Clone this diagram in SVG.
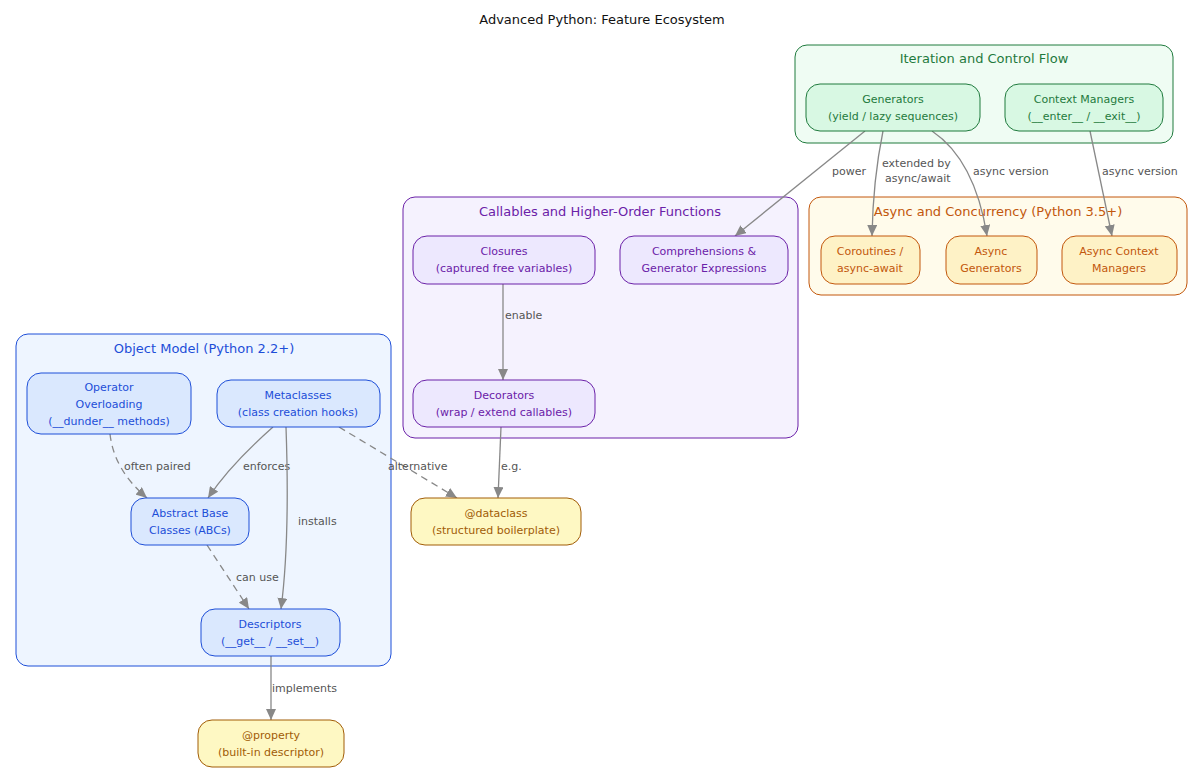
<svg xmlns="http://www.w3.org/2000/svg" width="1204" height="773" viewBox="0 0 1204 773">
<style>
text{font-family:"DejaVu Sans","Liberation Sans",sans-serif;text-anchor:middle}
.t{font-size:13px;fill:#111}
.cl{font-size:13px}
.n{font-size:11px}
.el{font-size:11px;fill:#555;text-anchor:start}
.e{fill:none;stroke:#888;stroke-width:1.3;marker-end:url(#a)}
.d{stroke-dasharray:7,5}
.gC{fill:#effcf3;stroke:#1f7a3d}.gN{fill:#d8f8e3;stroke:#1f7a3d}.gT{fill:#1f7a3d}
.pC{fill:#f5f2fe;stroke:#6b21a8}.pN{fill:#ede8fe;stroke:#6b21a8}.pT{fill:#6b21a8}
.bC{fill:#eef5ff;stroke:#1d4ed8}.bN{fill:#dae8fe;stroke:#1d4ed8}.bT{fill:#1d4ed8}
.oC{fill:#fffbeb;stroke:#c2570c}.oN{fill:#fef2c6;stroke:#c2570c}.oT{fill:#c2570c}
.yN{fill:#fef8c3;stroke:#a15c07}.yT{fill:#a15c07}
</style>
<defs><marker id="a" markerUnits="userSpaceOnUse" markerWidth="12" markerHeight="10" refX="11" refY="5" orient="auto"><path d="M0,0L11,5L0,10z" fill="#888"/></marker></defs>
<text class="t" x="602" y="24">Advanced Python: Feature Ecosystem</text>
<g id="cluster_iter"><rect class="gC" x="795" y="45" width="378" height="98" rx="12"/><text class="cl gT" x="984" y="63">Iteration and Control Flow</text></g>
<g id="cluster_async"><rect class="oC" x="809" y="197" width="378" height="98" rx="12"/><text class="cl oT" x="998" y="216">Async and Concurrency (Python 3.5+)</text></g>
<g id="cluster_call"><rect class="pC" x="403" y="197" width="395" height="241" rx="12"/><text class="cl pT" x="600" y="216">Callables and Higher-Order Functions</text></g>
<g id="cluster_obj"><rect class="bC" x="16" y="334" width="375" height="332" rx="12"/><text class="cl bT" x="204" y="353">Object Model (Python 2.2+)</text></g>
<g id="connectors">
<path class="e" d="M865,131L735,236"/><text class="el" x="832" y="175">power</text>
<path class="e" d="M883,131Q873,180 872,236"/><text class="el" x="882" y="167">extended by</text><text class="el" x="885" y="182">async/await</text>
<path class="e" d="M932,131Q975,160 987,236"/><text class="el" x="973" y="175">async version</text>
<path class="e" d="M1090,131L1112,236"/><text class="el" x="1102" y="175">async version</text>
<path class="e" d="M503,284L503,380"/><text class="el" x="505" y="319">enable</text>
<path class="e" d="M501,427L498,498"/><text class="el" x="501" y="470">e.g.</text>
<path class="e d" d="M339,427L457,498"/><text class="el" x="388" y="470">alternative</text>
<path class="e" d="M273,427Q230,465 208,498"/><text class="el" x="243" y="470">enforces</text>
<path class="e" d="M286,427Q290,540 281,609"/><text class="el" x="298" y="525">installs</text>
<path class="e d" d="M110,434Q114,470 147,498"/><text class="el" x="124" y="470">often paired</text>
<path class="e d" d="M207,545L249,609"/><text class="el" x="236" y="581">can use</text>
<path class="e" d="M271,656L271,720"/><text class="el" x="272" y="692">implements</text>
</g>
<g id="generators"><rect class="gN" x="806" y="84" width="174" height="47" rx="14"/><text class="n gT" x="893" y="103">Generators</text><text class="n gT" x="893" y="120">(yield / lazy sequences)</text></g>
<g id="context_managers"><rect class="gN" x="1005" y="84" width="158" height="47" rx="14"/><text class="n gT" x="1084" y="103">Context Managers</text><text class="n gT" x="1084" y="120">(__enter__ / __exit__)</text></g>
<g id="coroutines"><rect class="oN" x="821" y="236" width="99" height="48" rx="14"/><text class="n oT" x="870" y="255">Coroutines /</text><text class="n oT" x="870" y="272">async-await</text></g>
<g id="async_gen"><rect class="oN" x="946" y="236" width="91" height="48" rx="14"/><text class="n oT" x="991" y="255">Async</text><text class="n oT" x="991" y="272">Generators</text></g>
<g id="async_ctx"><rect class="oN" x="1062" y="236" width="115" height="48" rx="14"/><text class="n oT" x="1119" y="255">Async Context</text><text class="n oT" x="1119" y="272">Managers</text></g>
<g id="closures"><rect class="pN" x="413" y="236" width="182" height="48" rx="14"/><text class="n pT" x="504" y="255">Closures</text><text class="n pT" x="504" y="272">(captured free variables)</text></g>
<g id="comprehensions"><rect class="pN" x="620" y="236" width="168" height="48" rx="14"/><text class="n pT" x="704" y="255">Comprehensions &amp;</text><text class="n pT" x="704" y="272">Generator Expressions</text></g>
<g id="decorators"><rect class="pN" x="413" y="380" width="182" height="47" rx="14"/><text class="n pT" x="504" y="399">Decorators</text><text class="n pT" x="504" y="416">(wrap / extend callables)</text></g>
<g id="operator"><rect class="bN" x="27" y="373" width="164" height="61" rx="14"/><text class="n bT" x="109" y="391">Operator</text><text class="n bT" x="109" y="408">Overloading</text><text class="n bT" x="109" y="425">(__dunder__ methods)</text></g>
<g id="metaclasses"><rect class="bN" x="217" y="380" width="163" height="47" rx="14"/><text class="n bT" x="298" y="399">Metaclasses</text><text class="n bT" x="298" y="416">(class creation hooks)</text></g>
<g id="abc"><rect class="bN" x="131" y="498" width="118" height="47" rx="14"/><text class="n bT" x="190" y="517">Abstract Base</text><text class="n bT" x="190" y="534">Classes (ABCs)</text></g>
<g id="descriptors"><rect class="bN" x="201" y="609" width="139" height="47" rx="14"/><text class="n bT" x="270" y="628">Descriptors</text><text class="n bT" x="270" y="645">(__get__ / __set__)</text></g>
<g id="dataclass"><rect class="yN" x="411" y="498" width="170" height="47" rx="14"/><text class="n yT" x="496" y="517">@dataclass</text><text class="n yT" x="496" y="534">(structured boilerplate)</text></g>
<g id="property"><rect class="yN" x="198" y="720" width="146" height="47" rx="14"/><text class="n yT" x="271" y="739">@property</text><text class="n yT" x="271" y="756">(built-in descriptor)</text></g>
</svg>
